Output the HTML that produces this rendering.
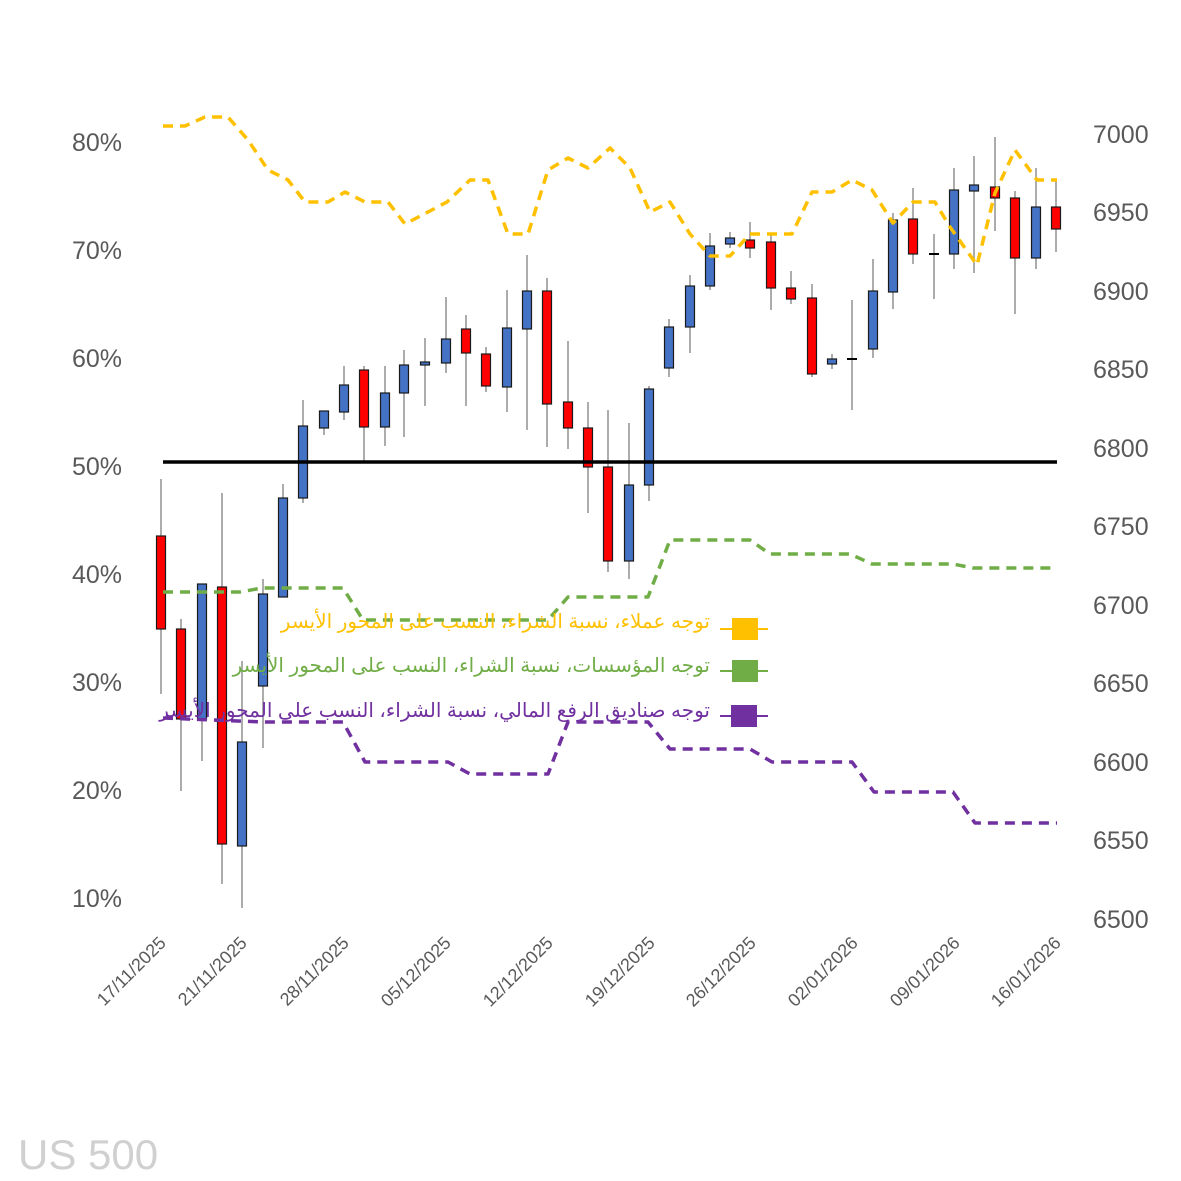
<!DOCTYPE html>
<html><head><meta charset="utf-8"><style>
html,body{margin:0;padding:0;background:#fff;}
svg{display:block;}
.ax{font-family:"Liberation Sans","DejaVu Sans",sans-serif;font-size:25px;fill:#595959;}
.dt{font-family:"Liberation Sans","DejaVu Sans",sans-serif;font-size:18px;fill:#595959;}
.lg{font-family:"Liberation Sans","Noto Sans CJK SC","DejaVu Sans",sans-serif;font-size:20px;}
.w{stroke:#7f7f7f;stroke-width:1.3;}
.r{fill:#ff0000;stroke:#1a1a1a;stroke-width:1.2;}
.b{fill:#4472c4;stroke:#1a1a1a;stroke-width:1.2;}
</style></head><body>
<svg width="1181" height="1181" viewBox="0 0 1181 1181" xmlns="http://www.w3.org/2000/svg">
<rect width="1181" height="1181" fill="#fff"/>
<g class="ax">
<text x="72" y="151">80%</text><text x="72" y="259">70%</text><text x="72" y="367">60%</text>
<text x="72" y="475">50%</text><text x="72" y="583">40%</text><text x="72" y="691">30%</text>
<text x="72" y="799">20%</text><text x="72" y="907">10%</text>
<text x="1093" y="143">7000</text><text x="1093" y="221">6950</text><text x="1093" y="300">6900</text>
<text x="1093" y="378">6850</text><text x="1093" y="457">6800</text><text x="1093" y="535">6750</text>
<text x="1093" y="614">6700</text><text x="1093" y="692">6650</text><text x="1093" y="771">6600</text>
<text x="1093" y="849">6550</text><text x="1093" y="928">6500</text>
</g>
<g class="dt" text-anchor="end">
<text transform="translate(167,944) rotate(-45)">17/11/2025</text>
<text transform="translate(248,944) rotate(-45)">21/11/2025</text>
<text transform="translate(350,944) rotate(-45)">28/11/2025</text>
<text transform="translate(452,944) rotate(-45)">05/12/2025</text>
<text transform="translate(554,944) rotate(-45)">12/12/2025</text>
<text transform="translate(656,944) rotate(-45)">19/12/2025</text>
<text transform="translate(757,944) rotate(-45)">26/12/2025</text>
<text transform="translate(859,944) rotate(-45)">02/01/2026</text>
<text transform="translate(961,944) rotate(-45)">09/01/2026</text>
<text transform="translate(1062,944) rotate(-45)">16/01/2026</text>
</g>
<g>
<line class="w" x1="161" y1="479" x2="161" y2="694"/><rect class="r" x="156.5" y="536" width="9" height="93"/>
<line class="w" x1="181" y1="619" x2="181" y2="791"/><rect class="r" x="176.5" y="629" width="9" height="90"/>
<line class="w" x1="202" y1="584" x2="202" y2="761"/><rect class="b" x="197.5" y="584" width="9" height="135"/>
<line class="w" x1="222" y1="493" x2="222" y2="884"/><rect class="r" x="217.5" y="587" width="9" height="257"/>
<line class="w" x1="242" y1="661" x2="242" y2="908"/><rect class="b" x="237.5" y="742" width="9" height="104"/>
<line class="w" x1="263" y1="579" x2="263" y2="748"/><rect class="b" x="258.5" y="594" width="9" height="92"/>
<line class="w" x1="283" y1="484" x2="283" y2="597"/><rect class="b" x="278.5" y="498" width="9" height="99"/>
<line class="w" x1="303" y1="400" x2="303" y2="503"/><rect class="b" x="298.5" y="426" width="9" height="72"/>
<line class="w" x1="324" y1="411" x2="324" y2="435"/><rect class="b" x="319.5" y="411" width="9" height="17"/>
<line class="w" x1="344" y1="366" x2="344" y2="420"/><rect class="b" x="339.5" y="385" width="9" height="27"/>
<line class="w" x1="364" y1="366" x2="364" y2="463"/><rect class="r" x="359.5" y="370" width="9" height="57"/>
<line class="w" x1="385" y1="366" x2="385" y2="446"/><rect class="b" x="380.5" y="393" width="9" height="34"/>
<line class="w" x1="404" y1="350" x2="404" y2="437"/><rect class="b" x="399.5" y="365" width="9" height="28"/>
<line class="w" x1="425" y1="338" x2="425" y2="406"/><rect class="b" x="420.5" y="362" width="9" height="3"/>
<line class="w" x1="446" y1="297" x2="446" y2="373"/><rect class="b" x="441.5" y="339" width="9" height="24"/>
<line class="w" x1="466" y1="315" x2="466" y2="406"/><rect class="r" x="461.5" y="329" width="9" height="24"/>
<line class="w" x1="486" y1="347" x2="486" y2="392"/><rect class="r" x="481.5" y="354" width="9" height="32"/>
<line class="w" x1="507" y1="290" x2="507" y2="412"/><rect class="b" x="502.5" y="328" width="9" height="59"/>
<line class="w" x1="527" y1="255" x2="527" y2="430"/><rect class="b" x="522.5" y="291" width="9" height="38"/>
<line class="w" x1="547" y1="278" x2="547" y2="447"/><rect class="r" x="542.5" y="291" width="9" height="113"/>
<line class="w" x1="568" y1="341" x2="568" y2="449"/><rect class="r" x="563.5" y="402" width="9" height="26"/>
<line class="w" x1="588" y1="402" x2="588" y2="513"/><rect class="r" x="583.5" y="428" width="9" height="39"/>
<line class="w" x1="608" y1="410" x2="608" y2="572"/><rect class="r" x="603.5" y="467" width="9" height="94"/>
<line class="w" x1="629" y1="423" x2="629" y2="579"/><rect class="b" x="624.5" y="485" width="9" height="76"/>
<line class="w" x1="649" y1="386" x2="649" y2="501"/><rect class="b" x="644.5" y="389" width="9" height="96"/>
<line class="w" x1="669" y1="319" x2="669" y2="377"/><rect class="b" x="664.5" y="327" width="9" height="41"/>
<line class="w" x1="690" y1="275" x2="690" y2="353"/><rect class="b" x="685.5" y="286" width="9" height="41"/>
<line class="w" x1="710" y1="233" x2="710" y2="290"/><rect class="b" x="705.5" y="246" width="9" height="40"/>
<line class="w" x1="730" y1="232" x2="730" y2="248"/><rect class="b" x="725.5" y="238" width="9" height="6"/>
<line class="w" x1="750" y1="222" x2="750" y2="258"/><rect class="r" x="745.5" y="240" width="9" height="8"/>
<line class="w" x1="771" y1="235" x2="771" y2="310"/><rect class="r" x="766.5" y="242" width="9" height="46"/>
<line class="w" x1="791" y1="271" x2="791" y2="304"/><rect class="r" x="786.5" y="288" width="9" height="11"/>
<line class="w" x1="812" y1="284" x2="812" y2="377"/><rect class="r" x="807.5" y="298" width="9" height="76"/>
<line class="w" x1="832" y1="354" x2="832" y2="369"/><rect class="b" x="827.5" y="359" width="9" height="5"/>
<line class="w" x1="852" y1="300" x2="852" y2="410"/><line x1="847" y1="359" x2="857" y2="359" stroke="#000" stroke-width="2"/>
<line class="w" x1="873" y1="259" x2="873" y2="358"/><rect class="b" x="868.5" y="291" width="9" height="58"/>
<line class="w" x1="893" y1="213" x2="893" y2="309"/><rect class="b" x="888.5" y="220" width="9" height="72"/>
<line class="w" x1="913" y1="188" x2="913" y2="264"/><rect class="r" x="908.5" y="219" width="9" height="35"/>
<line class="w" x1="934" y1="234" x2="934" y2="299"/><line x1="929" y1="254" x2="939" y2="254" stroke="#000" stroke-width="2"/>
<line class="w" x1="954" y1="168" x2="954" y2="269"/><rect class="b" x="949.5" y="190" width="9" height="64"/>
<line class="w" x1="974" y1="156" x2="974" y2="273"/><rect class="b" x="969.5" y="185" width="9" height="6"/>
<line class="w" x1="995" y1="137" x2="995" y2="231"/><rect class="r" x="990.5" y="187" width="9" height="11"/>
<line class="w" x1="1015" y1="191" x2="1015" y2="314"/><rect class="r" x="1010.5" y="198" width="9" height="60"/>
<line class="w" x1="1036" y1="168" x2="1036" y2="269"/><rect class="b" x="1031.5" y="207" width="9" height="51"/>
<line class="w" x1="1056" y1="180" x2="1056" y2="252"/><rect class="r" x="1051.5" y="207" width="9" height="22"/>
</g>
<line x1="163" y1="462" x2="1057" y2="462" stroke="#000" stroke-width="3.5"/>
<g fill="none" stroke-width="3.5" stroke-dasharray="10,7" stroke-linejoin="round">
<polyline stroke="#ffc000" points="163,126 185,126 205,117 228,117 248,140 268,170 288,180 305,202 328,202 345,192 365,202 388,202 405,224 428,212 447,202 470,180 488,180 508,234 528,234 548,170 568,158 588,168 610,148 630,168 650,212 670,202 690,234 710,256 730,256 750,234 770,234 792,234 812,192 832,192 852,180 872,190 893,223 913,202 935,202 950,227 977,265 995,193 1015,150 1037,180 1057,180"/>
<polyline stroke="#70ad47" points="163,592 240,592 262,588 343,588 363,620 548,620 568,597 648,597 670,540 750,540 770,554 850,554 872,564 953,564 973,568 1057,568"/>
<polyline stroke="#7030a0" points="163,718 263,722 343,722 365,762 448,762 470,774 548,774 568,722 648,722 670,749 750,749 772,762 852,762 874,792 953,792 975,823 1057,823"/>
</g>
<g>
<line x1="720" y1="629" x2="768" y2="629" stroke="#ffc000" stroke-width="2"/><rect x="732" y="618" width="26" height="22" fill="#ffc000"/>
<line x1="720" y1="671" x2="768" y2="671" stroke="#70ad47" stroke-width="2"/><rect x="732" y="660" width="26" height="22" fill="#70ad47"/>
<line x1="720" y1="716" x2="768" y2="716" stroke="#7030a0" stroke-width="2"/><rect x="731" y="705" width="26" height="22" fill="#7030a0"/>
<text class="lg" x="710" y="628" text-anchor="end" fill="#ffc000">توجه عملاء، نسبة الشراء، النسب على المحور الأيسر</text>
<text class="lg" x="710" y="672" text-anchor="end" fill="#70ad47">توجه المؤسسات، نسبة الشراء، النسب على المحور الأيسر</text>
<text class="lg" x="710" y="717" text-anchor="end" fill="#7030a0">توجه صناديق الرفع المالي، نسبة الشراء، النسب على المحور الأيسر</text>
</g>
<text x="18" y="1169" font-family="Liberation Sans, sans-serif" font-size="42" fill="#d0d0d0">US 500</text>
</svg>
</body></html>
